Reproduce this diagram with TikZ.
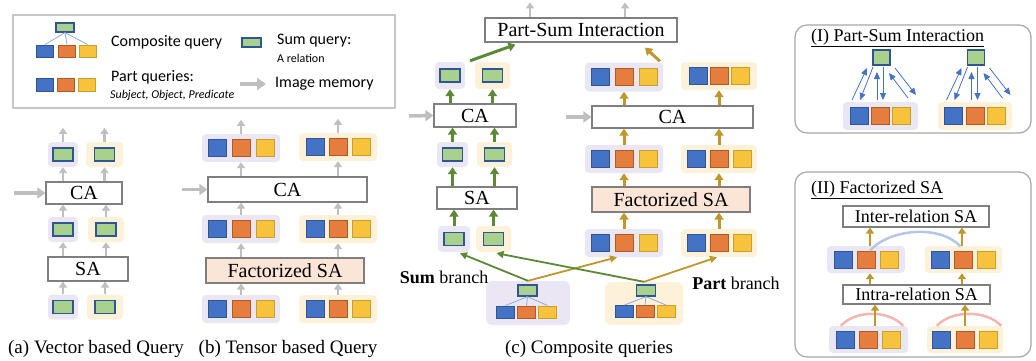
\documentclass[tikz,border=0pt]{standalone}
\usepackage{fontspec}
\setmainfont{Liberation Serif}
\newfontfamily\calfont{Carlito}
\usetikzlibrary{arrows.meta,calc}
\definecolor{qblue}{HTML}{4472C4}
\definecolor{qblueD}{HTML}{2F5597}
\definecolor{qorange}{HTML}{E47D3E}
\definecolor{qorangeD}{HTML}{B35A1F}
\definecolor{qyellow}{HTML}{F7C33C}
\definecolor{qyellowD}{HTML}{C9A02A}
\definecolor{qgreen}{HTML}{A9D18E}
\definecolor{bgP}{HTML}{EAE6F3}
\definecolor{bgY}{HTML}{FDF1D9}
\definecolor{peach}{HTML}{FBE5D6}
\definecolor{arrG}{HTML}{5B8A36}
\definecolor{arrY}{HTML}{C1962B}
\definecolor{arrGray}{HTML}{BFBFBF}
\definecolor{boxGray}{HTML}{7F7F7F}
\definecolor{legGray}{HTML}{C8C8C8}
\definecolor{panelGray}{HTML}{A6A6A6}
\definecolor{linkBlue}{HTML}{8FAADC}
\definecolor{arcBlue}{HTML}{B4C7E7}
\definecolor{arcRed}{HTML}{F4B6B0}

\newcommand{\PartRow}[7]{%
  \node[qbg,fill=#4,minimum width=#5,minimum height=#6] (#1) at (#2,#3) {};
  \node[bsq] (#1-s) at (#2-#7,#3) {};
  \node[osq] (#1-o) at (#2,#3) {};
  \node[ysq] (#1-p) at (#2+#7,#3) {};
}
\newcommand{\SumRow}[6]{%
  \node[qbg,fill=#4,minimum width=#5,minimum height=#6] (#1) at (#2,#3) {};
  \node[gsq] (#1-g) at (#2,#3) {};
}
\newcommand{\PSArrows}[1]{%
  \draw[barrow] ($(#1)+(-29.5,42.5)$) -- ($(#1)+(-14.5,10.5)$);
  \draw[barrow] ($(#1)+(-8.5,9.5)$) -- ($(#1)+(-21.5,42.5)$);
  \draw[barrow] ($(#1)+(-4.5,42.5)$) -- ($(#1)+(-4.5,14.5)$);
  \draw[barrow] ($(#1)+(1.5,9.5)$) -- ($(#1)+(1.5,42.5)$);
  \draw[barrow] ($(#1)+(26.5,40.5)$) -- ($(#1)+(7.5,15.5)$);
  \draw[barrow] ($(#1)+(13.5,10.5)$) -- ($(#1)+(34.5,37.5)$);
}

\begin{document}
\begin{tikzpicture}[x=1pt,y=-1pt,
  qbg/.style={rounded corners=4,inner sep=0,draw=none},
  bsq/.style={fill=qblue,draw=qblueD,line width=1,inner sep=0,minimum width=18,minimum height=17},
  osq/.style={fill=qorange,draw=qorangeD,line width=1,inner sep=0,minimum width=18,minimum height=17},
  ysq/.style={fill=qyellow,draw=qyellowD,line width=1,inner sep=0,minimum width=18,minimum height=17},
  gsq/.style={fill=qgreen,draw=qblueD,line width=1.3,inner sep=0,minimum width=20,minimum height=13},
  opbox/.style={draw=boxGray,line width=1.2,fill=white,inner sep=0,font=\fontsize{20}{22}\selectfont},
  garrow/.style={arrGray,line width=2.5,-{Triangle[width=8,length=6]}},
  inarrow/.style={arrGray,line width=3.5,-{Triangle[width=11,length=8]}},
  grarrow/.style={arrG,line width=3,-{Triangle[width=9,length=7]}},
  goarrow/.style={arrY,line width=3,-{Triangle[width=9,length=7]}},
  goarrowS/.style={arrY,line width=2.5,-{Triangle[width=8,length=6]}},
  glink/.style={arrG,line width=1.8,-{Triangle[width=7,length=7]}},
  ylink/.style={arrY,line width=1.8,-{Triangle[width=7,length=7]}},
  barrow/.style={qblue,line width=0.8,-{Triangle[width=6,length=7]}},
  tlink/.style={linkBlue,line width=0.8},
  rpanel/.style={draw=panelGray,line width=1.2,rounded corners=12,inner sep=0},
  caption/.style={font=\fontsize{19}{21}\selectfont},
  leg/.style={anchor=west,font=\calfont\fontsize{16}{18}\selectfont,inner sep=0},
  legs/.style={anchor=west,font=\calfont\fontsize{12}{14}\selectfont,inner sep=0},
]
\useasboundingbox (0,0) rectangle (1036,360);

% ---------------- Legend ----------------
\node[draw=legGray,line width=1.2,minimum width=382,minimum height=93,inner sep=0] (legend) at (204,61.5) {};
\node[gsq,minimum width=18,minimum height=9] (lgS) at (65,27.5) {};
\node[bsq,minimum width=17,minimum height=12] (lg1) at (45,51) {};
\node[osq,minimum width=17,minimum height=12] (lg2) at (67,51) {};
\node[ysq,minimum width=17,minimum height=12] (lg3) at (87.5,51) {};
\draw[tlink] (lgS.south) -- (lg1.north);
\draw[tlink] (lgS.south) -- (lg2.north);
\draw[tlink] (lgS.south) -- (lg3.north);
\node[leg] (lgCQ) at (111,42) {Composite query};
\node[gsq,minimum width=19,minimum height=9] (lgSum) at (251.5,42.5) {};
\node[leg] (lgSQ) at (277,41) {Sum query:};
\node[legs] (lgAR) at (277,58) {A relation};
\node[bsq,minimum width=17,minimum height=13] (lp1) at (44.5,84.5) {};
\node[osq,minimum width=17,minimum height=13] (lp2) at (65.5,84.5) {};
\node[ysq,minimum width=17,minimum height=13] (lp3) at (86.5,84.5) {};
\node[leg] (lgPQ) at (111,77) {Part queries:};
\node[legs] (lgSOP) at (110,95) {\itshape Subject, Object, Predicate};
\coordinate (lgA) at (240,84);
\node[leg] (lgIM) at (275,84) {Image memory};
\draw[arrGray,line width=4,-{Triangle[width=12,length=9]}] (lgA) -- ($(lgIM.west)+(-9,0)$);

% ---------------- (a) ----------------
\SumRow{aT1}{63}{154.5}{bgP}{30}{25}
\SumRow{aT2}{104.5}{154.5}{bgY}{37}{25}
\node[opbox,minimum width=76,minimum height=22] (aCA) at (84,193) {CA};
\SumRow{aM1}{63}{229.5}{bgP}{30}{25}
\SumRow{aM2}{106}{229.5}{bgY}{36}{25}
\node[opbox,minimum width=80,minimum height=24] (aSA) at (88,269) {SA};
\SumRow{aB1}{63}{307}{bgP}{30}{25}
\SumRow{aB2}{105}{307}{bgY}{36}{25}
\foreach \r in {aB1,aB2} \draw[garrow] (\r.north) -- (\r.north |- aSA.south);
\foreach \r in {aM1,aM2} \draw[garrow] (\r.south |- aSA.north) -- (\r.south);
\foreach \r in {aM1,aM2} \draw[garrow] (\r.north) -- (\r.north |- aCA.south);
\foreach \r in {aT1,aT2} \draw[garrow] (\r.south |- aCA.north) -- (\r.south);
\foreach \r in {aT1,aT2} \draw[garrow] (\r.north) -- ++(0,-14);
\coordinate (aIn) at (14,193);
\draw[inarrow] (aIn) -- (aCA.west);
\node[caption] (capA) at (96,349) {(a) Vector based Query};

% ---------------- (b) ----------------
\PartRow{bT1}{241}{148}{bgP}{78}{28}{24}
\PartRow{bT2}{338}{147}{bgY}{78}{28}{23}
\node[opbox,minimum width=159,minimum height=25] (bCA) at (287.5,189.5) {CA};
\PartRow{bM1}{241}{229}{bgP}{78}{28}{24}
\PartRow{bM2}{338}{229}{bgY}{78}{28}{23}
\node[opbox,fill=peach,minimum width=158,minimum height=25] (bSA) at (285,270.5) {Factorized SA};
\PartRow{bB1}{241}{309}{bgP}{78}{28}{24}
\PartRow{bB2}{338}{309}{bgY}{78}{28}{23}
\foreach \r in {bB1,bB2} \draw[garrow] (\r.north) -- (\r.north |- bSA.south);
\foreach \r in {bM1,bM2} \draw[garrow] (\r.south |- bSA.north) -- (\r.south);
\foreach \r in {bM1,bM2} \draw[garrow] (\r.north) -- (\r.north |- bCA.south);
\foreach \r in {bT1,bT2} \draw[garrow] (\r.south |- bCA.north) -- (\r.south);
\foreach \r in {bT1,bT2} \draw[garrow] (\r.north) -- ++(0,-14);
\coordinate (bIn) at (182,189.5);
\draw[inarrow] (bIn) -- (bCA.west);
\node[caption] (capB) at (288,349) {(b) Tensor based Query};

% ---------------- (c) ----------------
\node[opbox,minimum width=192,minimum height=24] (psi) at (581,30) {Part-Sum Interaction};
\draw[garrow] ($(psi.north)+(-51,0)$) -- ++(0,-15);
\draw[garrow] ($(psi.north)+(44,0)$) -- ++(0,-15);
% sum branch
\SumRow{cT1}{450}{75.5}{bgP}{30}{27}
\SumRow{cT2}{492.5}{75.5}{bgY}{35}{27}
\node[opbox,minimum width=82,minimum height=23] (cCA) at (475,115.5) {CA};
\SumRow{cM1}{452.5}{154.5}{bgP}{31}{25}
\SumRow{cM2}{494.5}{154.5}{bgY}{35}{25}
\node[opbox,minimum width=80,minimum height=22] (cSA) at (477,198) {SA};
\SumRow{cB1}{454}{239}{bgP}{32}{26}
\SumRow{cB2}{493.5}{239}{bgY}{35}{26}
\foreach \r in {cB1,cB2} \draw[grarrow] (\r.north) -- (\r.north |- cSA.south);
\foreach \r in {cM1,cM2} \draw[grarrow] (\r.south |- cSA.north) -- (\r.south);
\foreach \r in {cM1,cM2} \draw[grarrow] (\r.north) -- (\r.north |- cCA.south);
\foreach \r in {cT1,cT2} \draw[grarrow] (\r.south |- cCA.north) -- (\r.south);
\coordinate (cIn) at (409,116);
\draw[inarrow] (cIn) -- (cCA.west);
\draw[grarrow] ($(cT1.north east)!0.5!(cT2.north west)+(0,-1)$) -- ($(psi.south west)+(31,2)$);
% part branch
\PartRow{pT1}{624}{77}{bgP}{78}{29}{24}
\PartRow{pT2}{719}{76}{bgY}{76}{28}{21}
\node[opbox,minimum width=161,minimum height=22] (pCA) at (672.5,117) {CA};
\PartRow{pM1}{624}{159}{bgP}{78}{28}{24}
\PartRow{pM2}{719}{159}{bgY}{76}{28}{23}
\node[opbox,fill=peach,minimum width=158,minimum height=25] (pSA) at (671,199.5) {Factorized SA};
\PartRow{pB1}{624}{243}{bgP}{78}{28}{24}
\PartRow{pB2}{719}{243}{bgY}{76}{28}{23}
\foreach \r in {pB1,pB2} \draw[goarrow] (\r.north) -- (\r.north |- pSA.south);
\foreach \r in {pM1,pM2} \draw[goarrow] (\r.south |- pSA.north) -- (\r.south);
\foreach \r in {pM1,pM2} \draw[goarrow] (\r.north) -- (\r.north |- pCA.south);
\foreach \r in {pT1,pT2} \draw[goarrow] (\r.south |- pCA.north) -- (\r.south);
\coordinate (pIn) at (566,117);
\draw[inarrow] (pIn) -- (pCA.west);
\draw[goarrow] ($(pT1.north)+(36,-1)$) -- ($(psi.south)+(64,5)$);
% composite inputs
\node[qbg,fill=bgP,rounded corners=6,minimum width=84,minimum height=44] (compL) at (528,303) {};
\node[gsq,minimum width=19,minimum height=11] (compL-g) at (527.5,290.5) {};
\node[bsq,minimum width=18,minimum height=12] (compL-s) at (505.5,312) {};
\node[osq,minimum width=18,minimum height=12] (compL-o) at (526.5,312) {};
\node[ysq,minimum width=18,minimum height=12] (compL-p) at (547.5,312) {};
\foreach \q in {s,o,p} \draw[tlink] (compL-g.south) -- (compL-\q.north);
\node[qbg,fill=bgY,rounded corners=6,minimum width=78,minimum height=43] (compR) at (644,303.5) {};
\node[gsq,minimum width=19,minimum height=11] (compR-g) at (646,290.5) {};
\node[bsq,minimum width=18,minimum height=12] (compR-s) at (624.5,311.5) {};
\node[osq,minimum width=18,minimum height=12] (compR-o) at (645,311.5) {};
\node[ysq,minimum width=18,minimum height=12] (compR-p) at (666,311.5) {};
\foreach \q in {s,o,p} \draw[tlink] (compR-g.south) -- (compR-\q.north);
\draw[ylink] (compL.north) -- ($(pB1.south)+(-7,0)$);
\draw[glink] (compL.north) -- ($(cB1.south)+(6,1)$);
\draw[ylink] (compR.north) -- ($(pB2.south)+(-2,0)$);
\draw[glink] (compR.north) -- ($(cB2.south)+(3,1)$);
\node[font=\fontsize{18}{20}\selectfont] (sumlbl) at (444,277) {\textbf{Sum} branch};
\node[font=\fontsize{18}{20}\selectfont] (partlbl) at (736,283) {\textbf{Part} branch};
\node[caption] (capC) at (589,349) {(c) Composite queries};

% ---------------- (I) ----------------
\node[rpanel,minimum width=236,minimum height=108] (p1) at (913,79) {};
\node[anchor=west,inner sep=0,font=\fontsize{18}{20}\selectfont] (p1t) at (811,38) {\underline{(I) Part-Sum Interaction}};
\node[gsq,minimum width=17,minimum height=15] (iS1) at (881.5,57.5) {};
\node[gsq,minimum width=17,minimum height=15] (iS2) at (976,57.5) {};
\PartRow{iP1}{880.5}{116}{bgP}{75}{28}{21}
\PartRow{iP2}{975}{116}{bgY}{74}{28}{21.5}
\PSArrows{iS1}
\PSArrows{iS2}

% ---------------- (II) ----------------
\node[rpanel,minimum width=236,minimum height=185] (p2) at (913,264.5) {};
\node[anchor=west,inner sep=0,font=\fontsize{18}{20}\selectfont] (p2t) at (811,190) {\underline{(II) Factorized SA}};
\node[opbox,font=\fontsize{18}{20}\selectfont,minimum width=146,minimum height=21] (inter) at (916,216.5) {Inter-relation SA};
\PartRow{fR1}{866}{259.5}{bgP}{78}{27}{23}
\PartRow{fR2}{963.5}{259.5}{bgY}{77}{27}{23}
\node[opbox,font=\fontsize{18}{20}\selectfont,minimum width=147,minimum height=19] (intra) at (916.5,294.5) {Intra-relation SA};
\PartRow{fB1}{868.5}{339.5}{bgP}{79}{27}{23}
\PartRow{fB2}{965}{339.5}{bgY}{76}{27}{23.5}
\draw[arcBlue,line width=2.5] ($(fR1-o.north)+(4,0)$) .. controls +(20,-22) and +(-20,-22) .. ($(fR2-o.north)+(-3,-4)$);
\draw[arcRed,line width=2.5] ($(fB1.north west)+(12,0)$) .. controls +(15,-16) and +(-15,-16) .. ($(fB1.north east)+(-5,0)$);
\draw[arcRed,line width=2.5] ($(fB2.north west)+(10,0)$) .. controls +(15,-16) and +(-15,-16) .. ($(fB2.north east)+(-2,0)$);
\coordinate (f1a) at ($(fR1.north)+(4,0)$);
\coordinate (f2a) at ($(fR2.north)+(-1.5,0)$);
\coordinate (f1b) at ($(fB1.north)+(6.5,0)$);
\coordinate (f2b) at ($(fB2.north)+(0,0)$);
\coordinate (f1c) at ($(fR1.south)+(4,0)$);
\coordinate (f2c) at ($(fR2.south)+(-1.5,0)$);
\draw[goarrowS] (f1a) -- (f1a |- inter.south);
\draw[goarrowS] (f2a) -- (f2a |- inter.south);
\draw[goarrowS] (f1c |- intra.north) -- (f1c);
\draw[goarrowS] (f2c |- intra.north) -- (f2c);
\draw[goarrowS] (f1b) -- (f1b |- intra.south);
\draw[goarrowS] (f2b) -- (f2b |- intra.south);
\end{tikzpicture}
\end{document}
